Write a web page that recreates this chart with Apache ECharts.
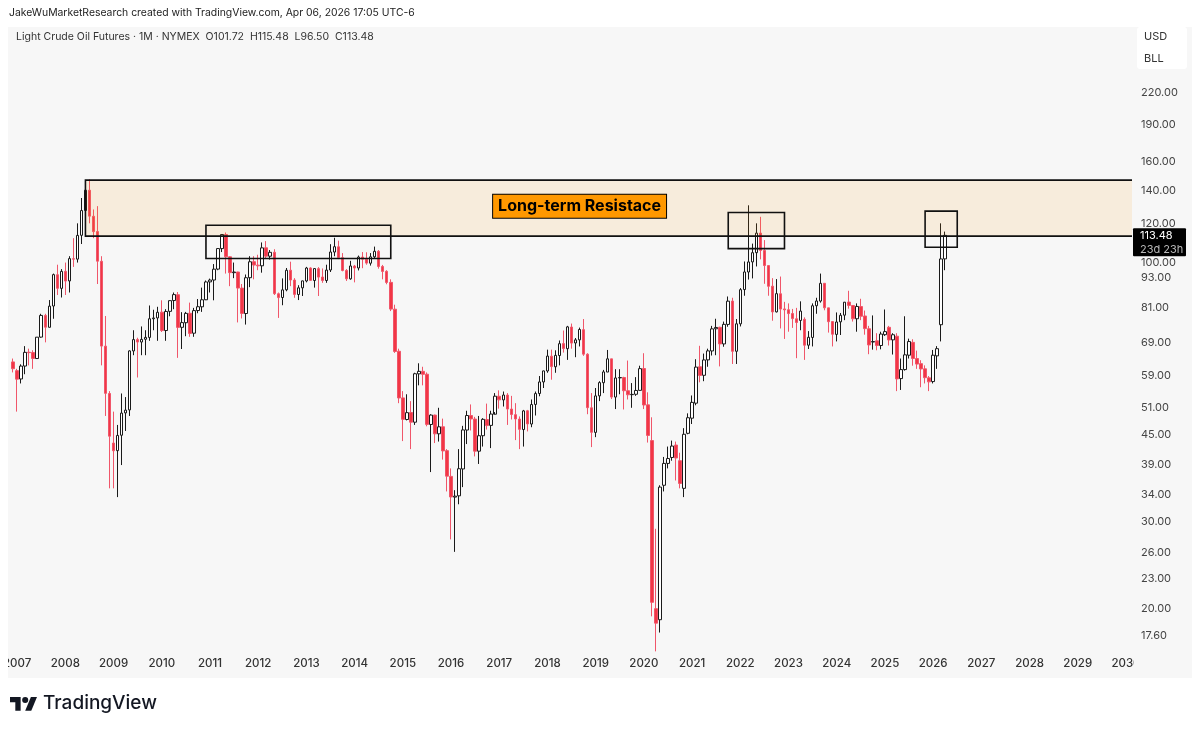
<!DOCTYPE html>
<html>
<head>
  <title>Light Crude Oil Futures</title>
  <meta charset="UTF-8">
  <script src="https://cdn.jsdelivr.net/npm/echarts@6/dist/echarts.min.js"></script>
  <style>
    html, body { margin: 0; padding: 0; background: #fff; }
  </style>
</head>
<body>
  <div id="myChart" style="width: 1200px; height: 729px;"></div>

  <script>
    // monthly candles, first one is 2006-12, one row per year
    const opens = [63,
      60.5,58.2,61.8,65.9,65.8,64,70.7,78.2,74,81.7,94.5,88.7,
      96,91.8,101.8,101.6,113.5,127.4,140,124,115.5,100.6,67.8,54.4,
      43.2,41.7,44.8,49.7,50.4,66.3,69.9,69.1,70,70.6,77,77.3,
      79.4,72.9,79.7,83.8,86.1,74,75.6,79,72,80,81.4,84.1,
      91.4,92.2,97,106.7,113.9,102.7,95.4,95.7,88.8,78.9,93.2,100.4,
      98.8,98.5,107.1,103,104.9,86.5,85,88.1,96.5,92.2,86.2,88.9,
      91.8,97.5,92,97.2,93.5,92,96.6,105,107.6,102.3,96.4,92.7,
      98.4,97.5,102.6,101.6,99.7,102.7,105.4,98.2,96,91.2,80.5,66.2,
      53.3,48.2,49.8,47.6,59.6,60.3,59.5,47.1,49.2,45.1,46.6,41.7,
      37,33.6,33.8,38.3,45.9,49.1,48.3,41.6,44.7,48.2,46.9,49.4,
      53.7,52.8,54,50.6,49.3,48.3,46,50.2,47.2,51.7,54.4,57.4,
      60.4,64.7,61.6,64.9,68.6,67,74.1,68.8,69.8,73.2,65.3,50.9,
      45.4,53.8,57.2,60.1,63.9,53.5,58.5,58.6,55.1,54.1,54.2,55.2,
      61.1,51.6,43.7,20,19,35.5,39.3,40.4,42.8,39.8,35,45.2,
      48.5,52,61.6,59.2,63.6,66.3,73.5,74,68.5,75,83.6,66.2,
      75.2,88.2,95.7,100.3,104.7,114.7,105.8,98.6,89.6,79.5,86.5,80.6,
      80.3,78.9,77,76.4,76.8,68.1,70.6,81.8,83.6,90.8,81,76,
      71.6,75.9,78.3,83.2,81.9,77,81.5,78,73.5,69.1,69.5,68,
      71.5,74,69.8,71,58.3,60.8,65,69,64,62.5,61,58.5,
      57.5,64.8,74.9,101.72];
    const closes = [61.05,
      58.14,61.79,65.87,65.78,64.01,70.68,78.21,74.04,81.66,94.53,88.71,95.98,
      91.75,101.84,101.58,113.46,127.35,140,124.08,115.46,100.64,67.81,54.43,44.6,
      41.68,44.76,49.66,50.35,66.31,69.89,69.1,69.96,70.61,77,77.28,79.36,
      72.89,79.66,83.76,86.15,73.97,75.63,78.95,71.92,79.97,81.43,84.11,91.38,
      92.19,96.97,106.72,113.93,102.7,95.42,95.7,88.81,78.93,93.19,100.36,98.83,
      98.48,107.07,103.02,104.87,86.53,84.96,88.06,96.47,92.19,86.24,88.91,91.82,
      97.49,92.05,97.23,93.46,91.97,96.56,105.03,107.65,102.33,96.38,92.72,98.42,
      97.49,102.59,101.58,99.74,102.71,105.37,98.17,95.96,91.16,80.54,66.15,53.27,
      48.24,49.76,47.6,59.63,60.3,59.47,47.12,49.2,45.09,46.59,41.65,37.04,
      33.62,33.75,38.34,45.92,49.1,48.33,41.6,44.7,48.24,46.86,49.44,53.72,
      52.81,54.01,50.6,49.33,48.32,46.04,50.17,47.23,51.67,54.38,57.4,60.42,
      64.73,61.64,64.94,68.57,67.04,74.15,68.76,69.8,73.25,65.31,50.93,45.41,
      53.79,57.22,60.14,63.91,53.5,58.47,58.58,55.1,54.07,54.18,55.17,61.06,
      51.56,44.76,20.6,18.7,35.2,39.3,40.2,42.6,40.3,35.8,45,48.6,
      52.2,61.5,59.16,63.58,66.32,73.47,73.95,68.5,75.03,83.57,66.18,75.21,
      88.15,95.72,100.28,104.69,114.67,105.76,98.62,89.55,79.49,86.53,80.55,80.26,
      78.87,77.05,75.67,79.8,68.09,70.64,81.8,83.63,90.79,81.02,75.96,71.65,
      75.85,78.26,83.17,81.93,76.99,81.54,77.91,73.55,68.17,69.26,68,71.72,
      72.53,69.76,71.48,58.21,60.79,65.11,69.26,64.01,62.37,60.98,58.55,57.42,
      65,67,101.7,113.48];
    const lows = [60,
      50,57,59.5,62,61,64,70.5,69,74,77,86,85,
      86,87,98,100,109,122,120,112,90.5,62,49,35,
      35,33.6,39,45.7,49,65,58.6,65,65,69.5,73,69.5,
      72.4,69.5,77.9,80.5,64.2,66.9,71,70.8,70.8,79,79.5,84,
      87,83.9,96.5,105,95,89.6,93,75.7,77.1,74.95,89.2,92.5,
      96.5,95.4,102,101.4,86,77.3,82,87.5,89.6,84.9,84,85.6,
      91.2,92,89,85.6,91,91,95.7,103,101.6,96,91.8,92.3,
      91.2,96.4,97.4,99,98.6,101.9,97.2,92.5,90.4,79.8,65.7,52,
      43.6,48,42,47,56.5,56.5,46.7,37.75,43.2,43.5,40,34.5,
      27.6,26.05,32.5,35.2,43,45.8,40.6,39.2,42.5,46,42.2,49.9,
      50.7,51.2,47,48.2,43.8,42,42.5,45.6,46.5,49.1,53.7,55.8,
      59.9,58,59.9,62,65.8,63.6,67,64.4,67.7,64.8,49.4,42.4,
      44.4,52.5,54.5,60.1,53,50.6,54.2,50.5,52.9,50.9,53.8,55.1,
      50.6,43.3,19.3,16.4,17.9,34.5,38.4,39.8,36.3,35,33.6,45,
      47.2,51.5,57.3,57.6,61.6,64.9,65,61.7,67.6,74.2,62.4,62.4,
      74.3,85.7,92.4,92.9,98.2,101.5,90.6,85.7,76.3,79.3,73.6,70.1,
      72.5,73.8,64.1,73,63.6,66.9,67.7,78.8,83,80.1,72.2,67.7,
      69.3,71.4,76.5,80.7,76,72.5,76.5,71.5,65.3,66.7,66.5,66.8,
      71.1,68,65.2,55,55.3,60.5,64,61.9,61,56,57,55,
      57,61,69.3,96.5];
    const highs = [64,
      61,62.3,67.8,67,66.5,70.7,78.8,78.8,84,95,99,97,
      100,103,112,120,135,143,147.27,128,130,103,78,55,
      50,47,54.4,53.5,66.5,73,70.5,74.3,73,81.9,80.3,81.4,
      83.9,80.5,83.9,87,87.2,79.4,79.5,83,81,84.4,89,92,
      92.8,99.3,107,114,115,103,100,95.8,90.5,94.6,103,103,
      103.7,109.8,110.5,106,106.4,87,92.9,97.5,100.4,93,90,91.9,
      98,97.8,97.4,97.9,97.3,99,108.9,112.2,110.7,104.5,97,100.8,
      98.9,103.3,105,104.9,104.5,107.7,106,98.9,96.5,92.5,82.2,67,
      55,54.2,52.5,59.9,62.6,61.6,60,49.4,49.3,50.9,48.4,42,
      38.4,34.7,42,46.8,50.2,51.7,48.8,49,48.5,51.9,50.2,54.5,
      55.2,54.9,54.5,53.8,52,48.9,50.4,50.4,52.9,54.9,59,60.5,
      66.7,66.7,66.5,69.6,72.9,74.5,75.3,70.4,73.9,76.9,65.6,54.5,
      55.8,57.6,60.7,66.6,63.9,60.9,60.9,58.8,63.4,57.1,58.7,61.9,
      65.6,54.7,48.7,29,35.5,40.5,42.5,43.7,43.5,41.3,46.3,49.6,
      53.9,63.8,67.9,65.5,67,74.5,77,74.2,76,85.4,84.9,76.9,
      88.8,100.5,130.5,109.2,120,123.7,111,98.6,93,92.6,93.7,83.3,
      82.7,80.6,81,83.5,77.5,72.7,82.7,84.9,95,90.9,81,76.2,
      79.3,79.1,83.2,87.7,81.9,82.7,84.5,80,74.5,78.2,72,72.5,
      80.4,74.5,72,72,64,77.9,70.2,70,66.4,63.5,62,59,
      66.6,67.8,120,115.48];

    const priceTicks = [220,190,160,140,120,100,93,81,69,59,51,45,39,34,30,26,23,20,17.6];

    // drawings on the chart: [from month, to month, top price, bottom price]
    const resistanceZone = ['2008-06', '2030-02', 146.7, 113.1];
    const boxes = [
      ['2010-12', '2014-10', 118.9, 101.9],
      ['2021-10', '2022-12', 126.2, 106.7],
      ['2025-11', '2026-07', 127, 107.4]
    ];
    const zoneLabel = ['2018-09', 130, 'Long-term Resistace'];
    const lastTag = ['113.48', '23d 23h'];

    const titleText = 'JakeWuMarketResearch created with TradingView.com, Apr 06, 2026 17:05 UTC-6';
    const legendText = 'Light Crude Oil Futures · 1M · NYMEX  O101.72  H115.48  L96.50  C113.48';
    const FONT = 'Inter, "Noto Sans", sans-serif';

    // 2006-12 up to 2030-02, the right part of the axis stays empty
    const months = ['2006-12'];
    for (let y = 2007; y <= 2030; y++) {
      for (let m = 1; m <= 12; m++) {
        if (y === 2030 && m > 2) break;
        months.push(y + '-' + String(m).padStart(2, '0'));
      }
    }

    const candles = opens.map((o, i) => [o, closes[i], lows[i], highs[i]]);

    function renderZone(params, api) {
      const rightX = params.coordSys.x + params.coordSys.width;
      const lt = api.coord([api.value(0), api.value(2)]);
      const lb = api.coord([api.value(0), api.value(3)]);
      return {
        type: 'group',
        children: [
          {
            type: 'rect',
            shape: { x: lt[0], y: lt[1], width: rightX - lt[0], height: lb[1] - lt[1] },
            style: { fill: 'rgba(255,150,0,0.105)' }
          },
          {
            type: 'polyline',
            shape: { points: [[rightX, lt[1]], lt, lb, [rightX, lb[1]]] },
            style: { stroke: '#111', lineWidth: 1.6, fill: null }
          }
        ]
      };
    }

    function renderBox(params, api) {
      const a = api.coord([api.value(0), api.value(2)]);
      const b = api.coord([api.value(1), api.value(3)]);
      return {
        type: 'rect',
        shape: { x: a[0], y: a[1], width: b[0] - a[0], height: b[1] - a[1] },
        style: { stroke: '#111', lineWidth: 1.6, fill: null }
      };
    }

    function renderZoneLabel(params, api) {
      const p = api.coord([api.value(0), api.value(1)]);
      return {
        type: 'text',
        style: {
          text: zoneLabel[2],
          x: p[0], y: p[1],
          align: 'center', verticalAlign: 'middle',
          font: 'bold 16px ' + FONT,
          fill: '#000',
          backgroundColor: '#ff9800',
          borderColor: '#000', borderWidth: 1,
          padding: [4, 5, 3, 5]
        }
      };
    }

    function renderTag(params, api) {
      const x = params.coordSys.x + params.coordSys.width + 1;
      const y = api.coord([api.value(0), api.value(1)])[1];
      return {
        type: 'group',
        children: [
          { type: 'rect', shape: { x: x, y: y - 7, width: 53, height: 28, r: 1 }, style: { fill: '#000' } },
          { type: 'text', style: { text: lastTag[0], x: x + 7, y: y, verticalAlign: 'middle', font: '11px ' + FONT, fill: '#fff' } },
          { type: 'text', style: { text: lastTag[1], x: x + 7, y: y + 14, verticalAlign: 'middle', font: '11px ' + FONT, fill: '#b8b8b8' } }
        ]
      };
    }

    const myChart = echarts.init(document.getElementById('myChart'));

    const LOGO_X = 10, LOGO_Y = 694, LOGO_S = 0.76;
    const logoPoints = pts => pts.map(p => [LOGO_X + p[0] * LOGO_S, LOGO_Y + p[1] * LOGO_S]);

    const option = {
      animation: false,
      backgroundColor: '#ffffff',
      grid: { left: 8, top: 27, width: 1124, height: 627 },
      xAxis: {
        type: 'category',
        data: months,
        axisLine: { show: false },
        axisTick: { show: false },
        splitLine: { show: false },
        axisLabel: {
          interval: (i, v) => v.endsWith('-01'),
          formatter: v => v.slice(0, 4),
          hideOverlap: false,
          margin: 4,
          color: '#333',
          fontFamily: FONT,
          fontWeight: 500,
          fontSize: 11.5
        }
      },
      yAxis: {
        type: 'log',
        position: 'right',
        min: 16.2,
        max: 299,
        axisLine: { show: false },
        axisTick: { show: false },
        splitLine: { show: false },
        axisLabel: {
          customValues: priceTicks,
          formatter: v => Number(v).toFixed(2),
          margin: 9,
          color: '#444',
          fontFamily: FONT,
          fontSize: 11
        }
      },
      series: [
        {
          type: 'candlestick',
          data: candles,
          barWidth: 3,
          itemStyle: {
            color: '#ffffff',
            color0: '#f23645',
            borderColor: '#1a1a1a',
            borderColor0: '#f0566a',
            borderWidth: 1
          }
        },
        {
          type: 'custom',
          renderItem: renderZone,
          z: 5,
          data: [[months.indexOf(resistanceZone[0]), months.indexOf(resistanceZone[1]), resistanceZone[2], resistanceZone[3]]]
        },
        {
          type: 'custom',
          renderItem: renderBox,
          z: 6,
          data: boxes.map(b => [months.indexOf(b[0]), months.indexOf(b[1]), b[2], b[3]])
        },
        {
          type: 'custom',
          renderItem: renderZoneLabel,
          z: 7,
          data: [[months.indexOf(zoneLabel[0]), zoneLabel[1]]]
        },
        {
          type: 'custom',
          renderItem: renderTag,
          z: 8,
          data: [[opens.length - 1, closes[closes.length - 1]]]
        }
      ],
      graphic: [
        // pane background
        { type: 'rect', z: -10, shape: { x: 8, y: 27, width: 1184, height: 651 }, style: { fill: '#f7f7f7' } },
        // the time scale cuts its first and last year label
        { type: 'rect', z: 20, shape: { x: 0, y: 654, width: 8, height: 24 }, style: { fill: '#ffffff' } },
        { type: 'rect', z: 20, shape: { x: 1134, y: 654, width: 58, height: 24 }, style: { fill: '#f7f7f7' } },
        { type: 'text', z: 21, x: 9, y: 13, style: { text: titleText, font: '10.4px ' + FONT, fill: '#222', verticalAlign: 'middle' } },
        { type: 'text', z: 21, x: 16, y: 37, style: { text: legendText, font: '10.5px ' + FONT, fill: '#333', verticalAlign: 'middle' } },
        { type: 'rect', z: 20, shape: { x: 1137, y: 27, width: 50, height: 42, r: 3 }, style: { fill: '#ffffff' } },
        { type: 'text', z: 21, x: 1144, y: 37, style: { text: 'USD', font: '11px ' + FONT, fill: '#333', verticalAlign: 'middle' } },
        { type: 'text', z: 21, x: 1144, y: 59, style: { text: 'BLL', font: '11px ' + FONT, fill: '#333', verticalAlign: 'middle' } },
        // TradingView logo
        { type: 'polygon', z: 21, shape: { points: logoPoints([[0, 4], [14, 4], [14, 22], [7, 22], [7, 11], [0, 11]]) }, style: { fill: '#131722' } },
        { type: 'polygon', z: 21, shape: { points: logoPoints([[27.5, 4], [35.5, 4], [28, 22], [20, 22]]) }, style: { fill: '#131722' } },
        { type: 'circle', z: 21, shape: { cx: LOGO_X + 20 * LOGO_S, cy: LOGO_Y + 8 * LOGO_S, r: 4 * LOGO_S }, style: { fill: '#131722' } },
        { type: 'text', z: 21, x: 43, y: 703, style: { text: 'TradingView', font: '500 19px ' + FONT, fill: '#131722', verticalAlign: 'middle' } }
      ]
    };

    myChart.setOption(option);
  </script>
</body>
</html>
